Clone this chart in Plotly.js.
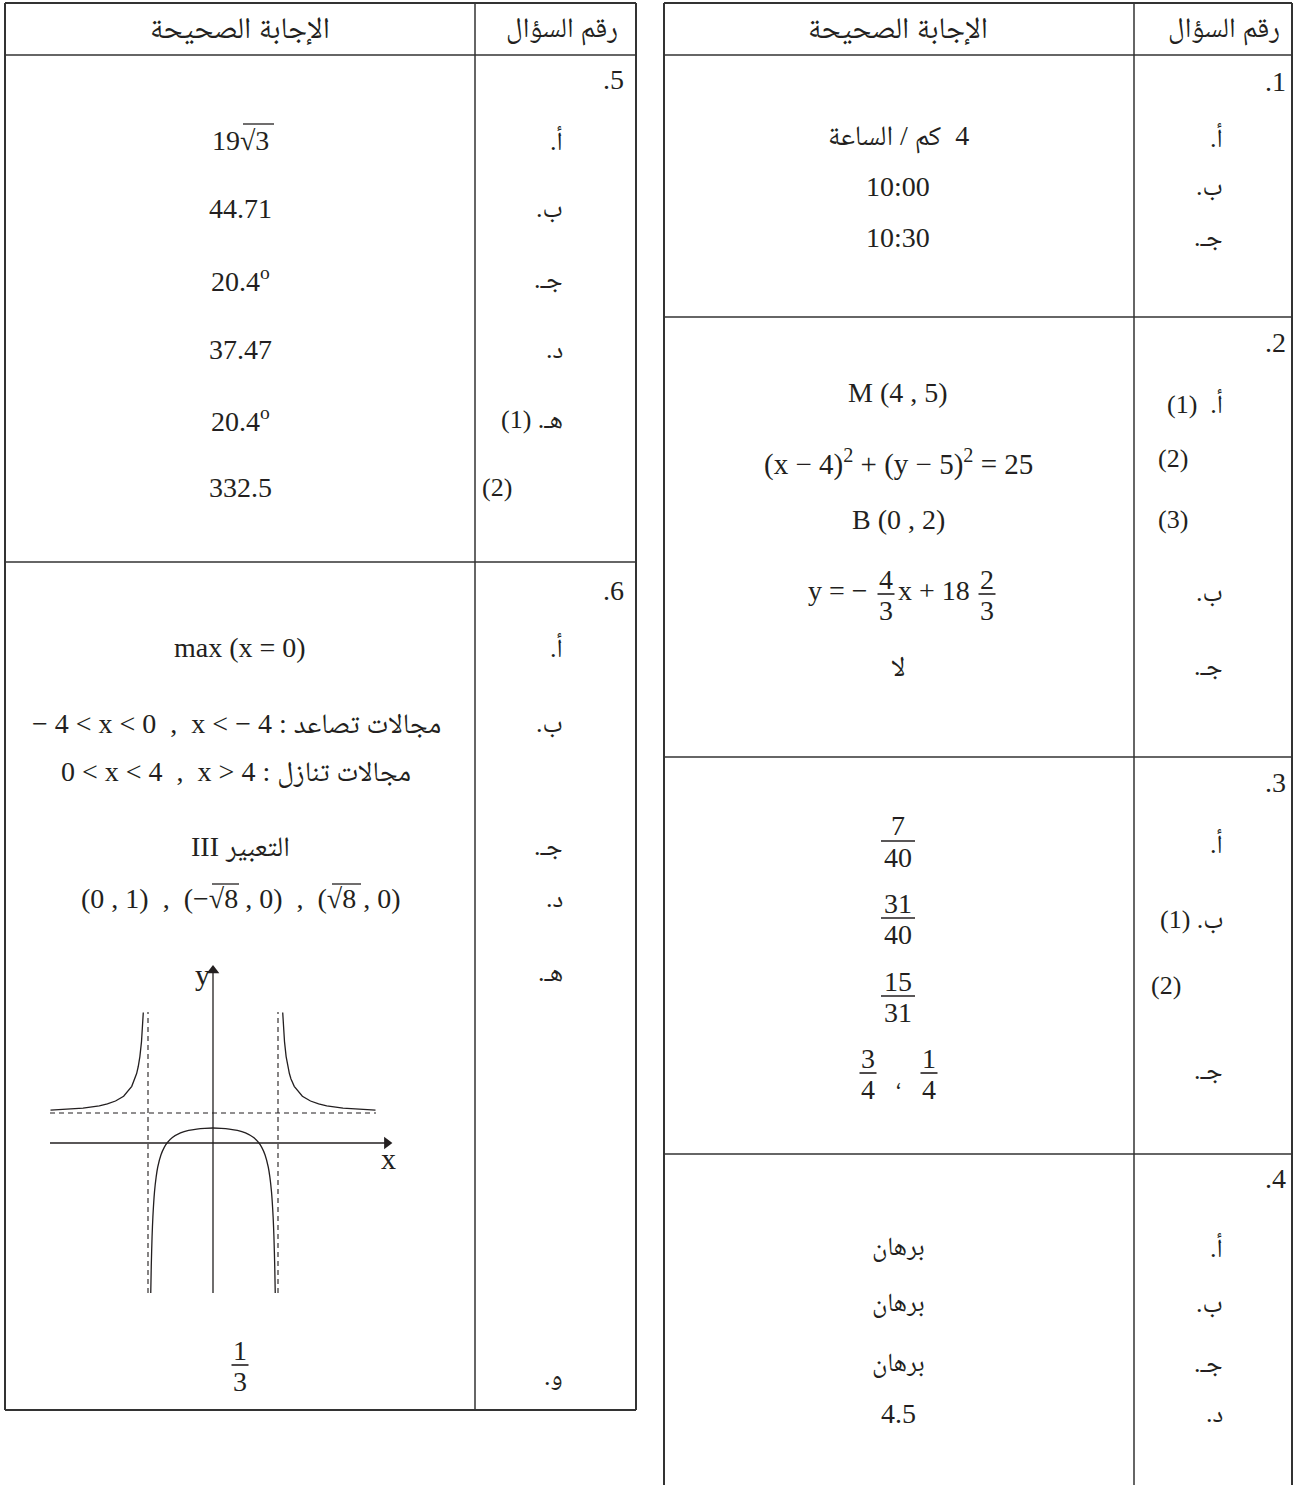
<!DOCTYPE html>
<html><head><meta charset="utf-8">
<script src="https://cdn.plot.ly/plotly-3.0.1.min.js"></script>
<style>html,body{margin:0;padding:0;background:#fff;}#chart{width:1296px;height:1485px;}</style>
</head><body><div id="chart"></div>
<script>
// ===================== DATA =====================
const headerAnswer = "الإجابة الصحيحة";
const headerQuestion = "رقم السؤال";

const q1Number = ".1";
const q1Labels = ["أ.", "ب.", "جـ."];
const q1Answers = ["4  كم / الساعة", "10:00", "10:30"];

const q2Number = ".2";
const q2Labels = ["أ.  (1)", "(2)", "(3)", "ب.", "جـ."];
const q2Answers = ["M (4 , 5)", "(x − 4)<sup>2</sup> + (y − 5)<sup>2</sup> = 25", "B (0 , 2)", "لا"];
const q2LinePieces = ["y = −", "x + 18"];
const q2LineNumerators = ["4", "2"];
const q2LineDenominators = ["3", "3"];

const q3Number = ".3";
const q3Labels = ["أ.", "ب. (1)", "(2)", "جـ."];
const q3Numerators = ["7", "31", "15"];
const q3Denominators = ["40", "40", "31"];
const q3cNumerators = ["3", "1"];
const q3cDenominators = ["4", "4"];
const q3cSeparator = "،";

const q4Number = ".4";
const q4Labels = ["أ.", "ب.", "جـ.", "د."];
const q4Answers = ["برهان", "برهان", "برهان", "4.5"];

const q5Number = ".5";
const q5Labels = ["أ.", "ب.", "جـ.", "د.", "هـ. (1)", "(2)"];
const q5Answers = ["19√3", "44.71", "20.4<sup>o</sup>", "37.47", "20.4<sup>o</sup>", "332.5"];

const q6Number = ".6";
const q6Labels = ["أ.", "ب.", "جـ.", "د.", "هـ.", "و."];
const q6Answers = ["max (x = 0)",
  "− 4 < x < 0  ,  x < − 4 : مجالات تصاعد",
  "0 < x < 4  ,  x > 4 : مجالات تنازل",
  "III التعبير",
  "(0 , 1)  ,  (−√8 , 0)  ,  (√8 , 0)"];
const q6Numerator = "1";
const q6Denominator = "3";

// graph of q6 (هـ) : values
const branchLeftX = [-10, -9, -8, -7, -6.5, -6, -5.5, -5, -4.8, -4.7, -4.6, -4.5, -4.4, -4.35, -4.3, -4.29];
const branchLeftY = [2.19, 2.25, 2.33, 2.48, 2.61, 2.80, 3.12, 3.78, 4.27, 4.63, 5.10, 5.76, 6.76, 7.48, 8.43, 8.70];
const branchMidX = [-3.83, -3.8, -3.75, -3.7, -3.6, -3.5, -3.4, -3.2, -3.0, -2.83, -2.5, -2.0, -1.5, -1.0, -0.5, 0,
                    0.5, 1.0, 1.5, 2.0, 2.5, 2.83, 3.0, 3.2, 3.4, 3.5, 3.6, 3.7, 3.75, 3.8, 3.83];
const branchMidY = [-10.0, -8.26, -6.26, -4.93, -3.26, -2.27, -1.60, -0.78, -0.29, 0, 0.36, 0.67, 0.84, 0.93, 0.98, 1.0,
                    0.98, 0.93, 0.84, 0.67, 0.36, 0, -0.29, -0.78, -1.60, -2.27, -3.26, -4.93, -6.26, -8.26, -10.0];
const branchRightX = [4.29, 4.3, 4.35, 4.4, 4.5, 4.6, 4.7, 4.8, 5, 5.5, 6, 6.5, 7, 8, 9, 10];
const branchRightY = [8.70, 8.43, 7.48, 6.76, 5.76, 5.10, 4.63, 4.27, 3.78, 3.12, 2.80, 2.61, 2.48, 2.33, 2.25, 2.19];
const asymptotesX = [-4, 4];
const asymptoteXSpan = [-10, 8.73];
const asymptoteY = 2;
const asymptoteYSpan = [-10.03, 10.03];
const axisXSpan = [-10.03, 10.7];
const axisYSpan = [-10, 11.5];
const axisLabels = ["x", "y"];

// ===================== LAYOUT HELPERS =====================
const W = 1296, H = 1485;
const FONT = "'Liberation Serif', 'Times New Roman', 'Noto Naskh Arabic', 'Noto Sans Arabic', 'DejaVu Sans', serif";
const INK = "#231f20", RULE = "#333333";
const RLE = "\u202B", PDF = "\u202C";
const rtl = s => RLE + s + PDF;
const PX = x => x / W, PY = y => 1 - y / H;
const annotations = [], shapes = [];

function txt(x, y, text, o = {}) {
  annotations.push({
    xref: 'paper', yref: 'paper', x: PX(x), y: PY(y), text: text, showarrow: false,
    xanchor: o.anchor || 'center', yanchor: 'middle',
    font: {family: FONT, size: o.size || 28, color: INK}
  });
}
function line(x0, y0, x1, y1, w, c) {
  shapes.push({type: 'line', xref: 'paper', yref: 'paper', x0: PX(x0), y0: PY(y0), x1: PX(x1), y1: PY(y1),
    line: {color: c || RULE, width: w || 1.5}});
}
function frac(cx, ly, num, den, w) {
  txt(cx, ly - 15, num);
  txt(cx, ly + 16, den);
  line(cx - w / 2, ly, cx + w / 2, ly, 1.6, INK);
}

// ===================== TABLE FRAMES =====================
const LT = {x0: 5, x1: 636, xd: 475, top: 3, head: 55, seps: [562], bottom: 1410, cx: 240, qx: 626, lx: 565};
const RT = {x0: 664, x1: 1292, xd: 1134, top: 3, head: 55, seps: [317, 757, 1154], bottom: 1485, cx: 898, qx: 1288, lx: 1225};

line(LT.x0, LT.top, LT.x1, LT.top, 2);
line(LT.x0, LT.bottom, LT.x1, LT.bottom, 2);
line(LT.x0, LT.top, LT.x0, LT.bottom, 2);
line(LT.x1, LT.top, LT.x1, LT.bottom, 2);
line(LT.xd, LT.top, LT.xd, LT.bottom, 1.5);
line(LT.x0, LT.head, LT.x1, LT.head, 1.5);
LT.seps.forEach(y => line(LT.x0, y, LT.x1, y, 1.5));
line(RT.x0, RT.top, RT.x1, RT.top, 2);
line(RT.x0, RT.top, RT.x0, RT.bottom, 2);
line(RT.x1, RT.top, RT.x1, RT.bottom, 2);
line(RT.xd, RT.top, RT.xd, RT.bottom, 1.5);
line(RT.x0, RT.head, RT.x1, RT.head, 1.5);
RT.seps.forEach(y => line(RT.x0, y, RT.x1, y, 1.5));

[LT, RT].forEach(T => {
  txt(T.cx, 29, headerAnswer, {size: 30});
  txt(T.qx - 6, 29, headerQuestion, {size: 28, anchor: 'right'});
});

// ===================== RIGHT TABLE CONTENT =====================
txt(RT.qx, 82, q1Number, {anchor: 'right'});
[137, 187, 238].forEach((y, i) => {
  txt(RT.lx, y, rtl(q1Labels[i]), {anchor: 'right', size: 26});
  txt(RT.cx, y, i === 0 ? rtl(q1Answers[i]) : q1Answers[i]);
});
txt(RT.qx, 343, q2Number, {anchor: 'right'});
txt(RT.lx, 403, rtl(q2Labels[0]), {anchor: 'right', size: 26});
txt(1173, 458, q2Labels[1], {size: 26});
txt(1173, 520, q2Labels[2], {size: 26});
txt(RT.lx, 592, rtl(q2Labels[3]), {anchor: 'right', size: 26});
txt(RT.lx, 667, rtl(q2Labels[4]), {anchor: 'right', size: 26});
txt(RT.cx, 392, q2Answers[0]);
txt(RT.cx, 463, q2Answers[1], {size: 29});
txt(RT.cx, 520, q2Answers[2]);
txt(RT.cx, 667, q2Answers[3]);
txt(838, 590, q2LinePieces[0]);
frac(886, 594, q2LineNumerators[0], q2LineDenominators[0], 17);
txt(934, 590, q2LinePieces[1]);
frac(987, 594, q2LineNumerators[1], q2LineDenominators[1], 17);
txt(RT.qx, 782, q3Number, {anchor: 'right'});
txt(RT.lx, 843, rtl(q3Labels[0]), {anchor: 'right', size: 26});
txt(RT.lx, 920, rtl(q3Labels[1]), {anchor: 'right', size: 26});
txt(1166, 985, q3Labels[2], {size: 26});
txt(RT.lx, 1070, rtl(q3Labels[3]), {anchor: 'right', size: 26});
[841, 918, 996].forEach((ly, i) => frac(RT.cx, ly, q3Numerators[i], q3Denominators[i], 34));
frac(868, 1073, q3cNumerators[0], q3cDenominators[0], 17);
frac(929, 1073, q3cNumerators[1], q3cDenominators[1], 17);
txt(898, 1080, q3cSeparator, {size: 24});
txt(RT.qx, 1178, q4Number, {anchor: 'right'});
[1247, 1303, 1363, 1413].forEach((y, i) => {
  txt(RT.lx, y, rtl(q4Labels[i]), {anchor: 'right', size: 26});
  txt(RT.cx, y, q4Answers[i], {size: i < 3 ? 26 : 28});
});

// ===================== LEFT TABLE CONTENT =====================
txt(LT.qx, 80, q5Number, {anchor: 'right'});
const q5Y = [140, 209, 279, 349, 419, 488];
q5Y.forEach((y, i) => {
  if (i < 5) txt(LT.lx, y, rtl(q5Labels[i]), {anchor: 'right', size: 26});
  else txt(497, y, q5Labels[i], {size: 26});
  txt(LT.cx, y, q5Answers[i]);
});
line(243, 124, 274, 124, 1.3, INK);
txt(LT.qx, 590, q6Number, {anchor: 'right'});
const q6LabelY = [647, 723, 846, 898, 972, 1376];
q6LabelY.forEach((y, i) => txt(LT.lx, y, rtl(q6Labels[i]), {anchor: 'right', size: 26}));
txt(LT.cx, 647, q6Answers[0]);
txt(236, 723, q6Answers[1]);
txt(236, 772, q6Answers[2]);
txt(LT.cx, 846, q6Answers[3]);
txt(LT.cx, 898, q6Answers[4]);
line(212, 884, 239, 884, 1.3, INK);
line(332, 884, 361, 884, 1.3, INK);
frac(LT.cx, 1365, q6Numerator, q6Denominator, 17);

// ===================== GRAPH (q6 هـ) =====================
const GX0 = 213, GY0 = 1143, SX = 16.25, SY = 15;
const gx = [40, 400], gy = [945, 1300];
const curveStyle = {color: INK, width: 1.3};
const dashStyle = {color: INK, width: 1.1, dash: '5px,4px'};
const axStyle = {color: INK, width: 1.3};
const base = {xaxis: 'x2', yaxis: 'y2', hoverinfo: 'skip'};
const traces = [
  Object.assign({x: branchLeftX, y: branchLeftY, mode: 'lines', line: curveStyle}, base),
  Object.assign({x: branchMidX, y: branchMidY, mode: 'lines', line: Object.assign({shape: 'spline', smoothing: 0.6}, curveStyle)}, base),
  Object.assign({x: branchRightX, y: branchRightY, mode: 'lines', line: curveStyle}, base),
  Object.assign({x: [asymptotesX[0], asymptotesX[0]], y: asymptoteXSpan, mode: 'lines', line: dashStyle}, base),
  Object.assign({x: [asymptotesX[1], asymptotesX[1]], y: asymptoteXSpan, mode: 'lines', line: dashStyle}, base),
  Object.assign({x: asymptoteYSpan, y: [asymptoteY, asymptoteY], mode: 'lines', line: dashStyle}, base),
  Object.assign({x: axisXSpan, y: [0, 0], mode: 'lines', line: axStyle}, base),
  Object.assign({x: [0, 0], y: axisYSpan, mode: 'lines', line: axStyle}, base),
  Object.assign({x: [axisXSpan[1]], y: [0], mode: 'markers', marker: {symbol: 'triangle-right', size: 11, color: INK}}, base),
  Object.assign({x: [0], y: [axisYSpan[1]], mode: 'markers', marker: {symbol: 'triangle-up', size: 11, color: INK}}, base)
];
txt(388, 1158, axisLabels[0], {size: 30});
txt(202, 974, axisLabels[1], {size: 30});

const hiddenAxis = {showgrid: false, zeroline: false, showticklabels: false, showline: false, ticks: '', fixedrange: true};
const layout = {
  width: W, height: H, margin: {l: 0, r: 0, t: 0, b: 0, pad: 0},
  paper_bgcolor: '#ffffff', plot_bgcolor: 'rgba(0,0,0,0)', showlegend: false,
  xaxis2: Object.assign({domain: [gx[0] / W, gx[1] / W], range: [(gx[0] - GX0) / SX, (gx[1] - GX0) / SX], anchor: 'y2'}, hiddenAxis),
  yaxis2: Object.assign({domain: [1 - gy[1] / H, 1 - gy[0] / H], range: [(GY0 - gy[1]) / SY, (GY0 - gy[0]) / SY], anchor: 'x2'}, hiddenAxis),
  annotations: annotations, shapes: shapes
};
Plotly.newPlot('chart', traces, layout, {staticPlot: true, displayModeBar: false});
</script>
</body></html>
